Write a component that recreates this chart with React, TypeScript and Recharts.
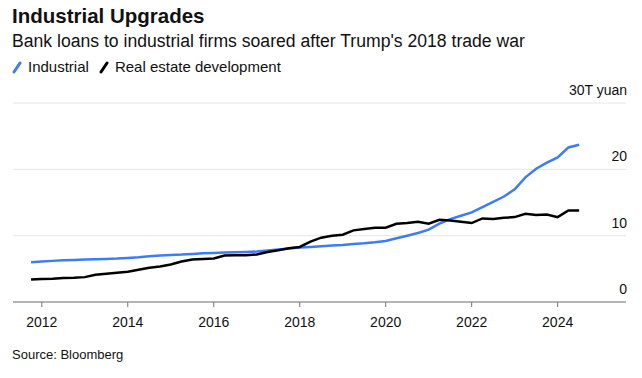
import { LineChart, Line, XAxis, YAxis, CartesianGrid } from 'recharts'

// quarterly observations, trillion yuan
const quarters = [
  2011.75, 2012, 2012.25, 2012.5, 2012.75, 2013, 2013.25, 2013.5, 2013.75,
  2014, 2014.25, 2014.5, 2014.75, 2015, 2015.25, 2015.5, 2015.75,
  2016, 2016.25, 2016.5, 2016.75, 2017, 2017.25, 2017.5, 2017.75,
  2018, 2018.25, 2018.5, 2018.75, 2019, 2019.25, 2019.5, 2019.75,
  2020, 2020.25, 2020.5, 2020.75, 2021, 2021.25, 2021.5, 2021.75,
  2022, 2022.25, 2022.5, 2022.75, 2023, 2023.25, 2023.5, 2023.75,
  2024, 2024.25, 2024.5,
]

const industrial = [
  6.0, 6.1, 6.2, 6.3, 6.35, 6.4, 6.45, 6.5, 6.55,
  6.65, 6.75, 6.9, 7.0, 7.1, 7.15, 7.25, 7.35,
  7.4, 7.45, 7.5, 7.55, 7.6, 7.75, 7.9, 8.05,
  8.2, 8.3, 8.4, 8.5, 8.6, 8.75, 8.85, 9.0,
  9.2, 9.6, 10.0, 10.4, 10.9, 11.8, 12.5, 13.0,
  13.5, 14.3, 15.1, 15.9, 17.0, 18.8, 20.1, 21.0,
  21.8, 23.3, 23.7,
]

const realEstate = [
  3.4, 3.45, 3.5, 3.6, 3.65, 3.75, 4.1, 4.25, 4.4,
  4.55, 4.85, 5.15, 5.35, 5.65, 6.1, 6.4, 6.5,
  6.55, 7.0, 7.05, 7.05, 7.15, 7.55, 7.8, 8.1,
  8.3, 9.1, 9.7, 10.0, 10.15, 10.8, 11.0, 11.2,
  11.2, 11.8, 11.9, 12.1, 11.8, 12.4, 12.3, 12.1,
  11.9, 12.6, 12.5, 12.7, 12.8, 13.3, 13.1, 13.2,
  12.8, 13.8, 13.8,
]

const yearTicks = [2012, 2014, 2016, 2018, 2020, 2022, 2024]
const valueTicks = [0, 10, 20, 30]

const data = quarters.map((t, i) => ({ t, industrial: industrial[i], realEstate: realEstate[i] }))

const FONT = '"Liberation Sans", Arial, sans-serif'
const BLUE = '#3d7bf7'
const PLOT_RIGHT = 627

const RightTick = (props: any) => {
  const { y, payload } = props
  const label = payload.value === 30 ? '30T yuan' : String(payload.value)
  return (
    <text x={PLOT_RIGHT} y={y - 8} textAnchor="end" fontSize={14} fill="#111" fontFamily={FONT}>
      {label}
    </text>
  )
}

const LegendIcon = ({ color }: { color: string }) => (
  <svg width={10} height={14} style={{ marginRight: 6 }}>
    <line x1={2} y1={12} x2={8} y2={3} stroke={color} strokeWidth={3} strokeLinecap="round" />
  </svg>
)

export default function App() {
  return (
    <div style={{ position: 'absolute', left: 0, top: 0, width: 642, height: 378, background: '#fff', fontFamily: FONT, color: '#111' }}>
      <div style={{ position: 'absolute', left: 12, top: 4, fontSize: 20.5, fontWeight: 'bold' }}>Industrial Upgrades</div>
      <div style={{ position: 'absolute', left: 12, top: 31, fontSize: 17.6 }}>
        Bank loans to industrial firms soared after Trump's 2018 trade war
      </div>
      <div style={{ position: 'absolute', left: 12, top: 58, fontSize: 15, display: 'flex', alignItems: 'center' }}>
        <LegendIcon color={BLUE} />
        <span style={{ marginRight: 10 }}>Industrial</span>
        <LegendIcon color="#000" />
        <span>Real estate development</span>
      </div>
      <div style={{ position: 'absolute', left: 0, top: 0 }}>
        <LineChart width={642} height={378} data={data} margin={{ top: 103, right: 15, bottom: 46, left: 13 }}>
          <CartesianGrid vertical={false} stroke="#e6e6e6" strokeWidth={1} />
          <XAxis
            dataKey="t"
            type="number"
            domain={[2011.33, 2025.59]}
            ticks={yearTicks}
            tickSize={5}
            tickMargin={10}
            stroke="#777"
            tick={{ fill: '#111', fontSize: 14, fontFamily: FONT }}
            tickFormatter={(v: number) => String(v)}
            height={30}
          />
          <YAxis
            orientation="right"
            domain={[0, 30]}
            ticks={valueTicks}
            width={1}
            axisLine={false}
            tickLine={false}
            tick={(p: any) => <RightTick {...p} />}
          />
          <Line type="linear" dataKey="industrial" stroke={BLUE} strokeWidth={2.5} dot={false} isAnimationActive={false} />
          <Line type="linear" dataKey="realEstate" stroke="#000" strokeWidth={2.5} dot={false} isAnimationActive={false} />
        </LineChart>
      </div>
      <div style={{ position: 'absolute', left: 12, top: 347, fontSize: 13 }}>Source: Bloomberg</div>
    </div>
  )
}
